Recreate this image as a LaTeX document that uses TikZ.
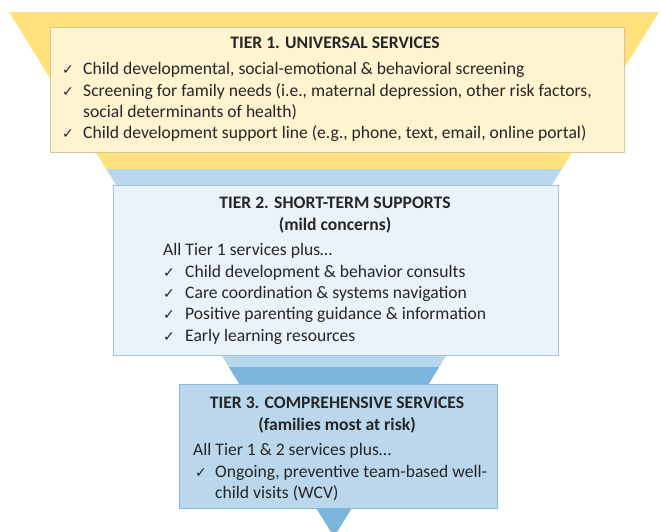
\documentclass[tikz,border=0pt]{standalone}
\usepackage{fontspec}
\setmainfont{Carlito}
\newfontfamily\symf{DejaVu Sans}
\definecolor{funY}{HTML}{FFE27D}
\definecolor{funB}{HTML}{B9D7EA}
\definecolor{funM}{HTML}{7AB5DB}
\definecolor{boxY}{HTML}{FFF3D0}
\definecolor{boxYd}{HTML}{D6C89E}
\definecolor{boxB}{HTML}{EAF2FA}
\definecolor{boxBd}{HTML}{A8C3D8}
\definecolor{boxM}{HTML}{BAD7EC}
\definecolor{boxMd}{HTML}{88B9DC}
\definecolor{txt}{HTML}{262626}
\newcommand\chk{{\symf\fontsize{14}{14}\selectfont ✓}}
\tikzset{
  panel/.style={anchor=north west, inner sep=0pt, line width=0.9pt},
  ln/.style={anchor=base west, inner sep=0pt, text=txt, font=\fontsize{17.6}{21}\selectfont},
  ttl/.style={anchor=base, inner sep=0pt, text=txt, font=\fontsize{17.6}{21}\selectfont\bfseries},
  ck/.style={anchor=base west, inner sep=0pt, text=txt}
}
\begin{document}
\begin{tikzpicture}[x=1pt,y=-1pt]
\useasboundingbox (0,0) rectangle (661,531);
% funnel bands
\begin{scope}
\clip (9,12) -- (659,12) -- (334,537) -- cycle;
\fill[funY] (0,12) rectangle (661,169);
\fill[funB] (0,169) rectangle (661,367);
\fill[funM] (0,367) rectangle (661,540);
\end{scope}
% boxes
\node[panel, fill=boxY, draw=boxYd, minimum width=574pt, minimum height=125pt] (b1) at (50,27) {};
\node[panel, fill=boxB, draw=boxBd, minimum width=445pt, minimum height=170pt] (b2) at (113,185) {};
\node[panel, fill=boxM, draw=boxMd, minimum width=318pt, minimum height=124pt] (b3) at (179,384) {};
% tier 1
\node[ttl] (t1) at (335,48) {TIER 1. UNIVERSAL SERVICES};
\node[ck] (c11) at (62,74) {\chk};
\node[ln] (l11) at (83,74) {Child developmental, social-emotional \& behavioral screening};
\node[ck] (c12) at (62,96) {\chk};
\node[ln] (l12) at (83,96) {Screening for family needs (i.e., maternal depression, other risk factors,};
\node[ln] (l13) at (83,117) {social determinants of health)};
\node[ck] (c14) at (62,138) {\chk};
\node[ln] (l14) at (83,138) {Child development support line (e.g., phone, text, email, online portal)};
% tier 2
\node[ttl] (t2) at (335,208) {TIER 2. SHORT-TERM SUPPORTS};
\node[ttl] (t2b) at (335,230) {(mild concerns)};
\node[ln] (a2) at (163,255) {All Tier 1 services plus…};
\node[ck] (c21) at (163,277) {\chk};
\node[ln] (l21) at (185,277) {Child development \& behavior consults};
\node[ck] (c22) at (163,298) {\chk};
\node[ln] (l22) at (185,298) {Care coordination \& systems navigation};
\node[ck] (c23) at (163,319) {\chk};
\node[ln] (l23) at (185,319) {Positive parenting guidance \& information};
\node[ck] (c24) at (163,341) {\chk};
\node[ln] (l24) at (185,341) {Early learning resources};
% tier 3
\node[ttl] (t3) at (337,408) {TIER 3. COMPREHENSIVE SERVICES};
\node[ttl] (t3b) at (337,430) {(families most at risk)};
\node[ln] (a3) at (193,455) {All Tier 1 \& 2 services plus…};
\node[ck] (c31) at (195,477) {\chk};
\node[ln] (l31) at (215,477) {Ongoing, preventive team-based well-};
\node[ln] (l32) at (215,498) {child visits (WCV)};
\end{tikzpicture}
\end{document}
